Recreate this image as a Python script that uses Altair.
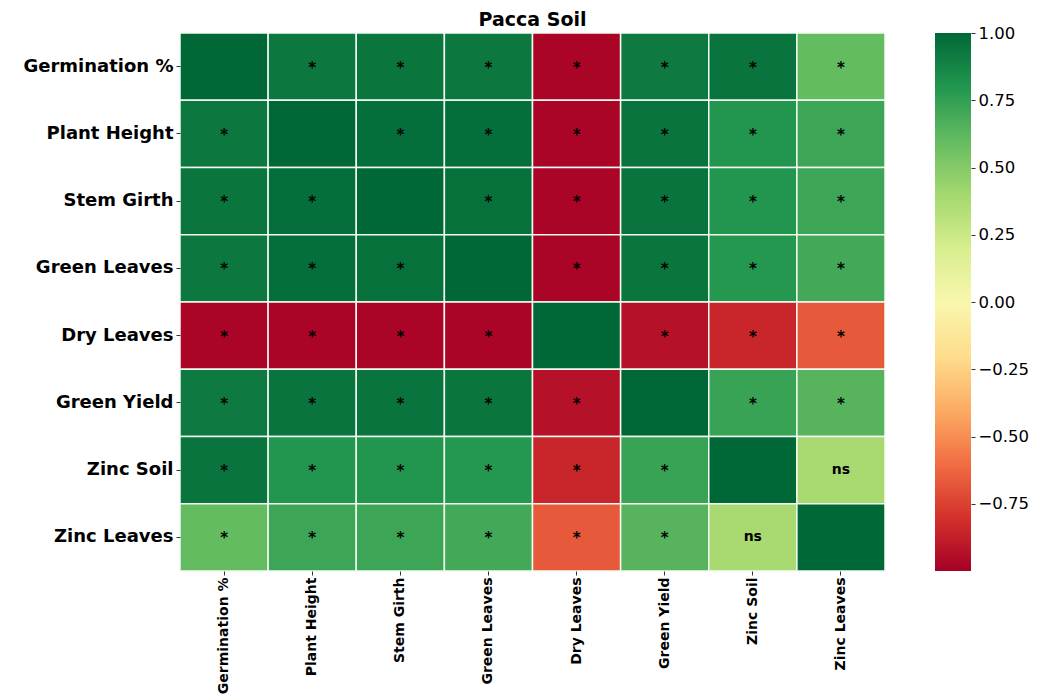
import altair as alt
import numpy as np
import pandas as pd

# Traits measured on Pacca soil
traits = ["Germination %", "Plant Height", "Stem Girth", "Green Leaves",
          "Dry Leaves", "Green Yield", "Zinc Soil", "Zinc Leaves"]

# Pearson correlation matrix (rows/cols in the order of `traits`)
corr = [
    [1.00, 0.93, 0.94, 0.93, -0.98, 0.92, 0.95, 0.60],
    [0.93, 1.00, 0.97, 0.97, -0.98, 0.95, 0.80, 0.72],
    [0.94, 0.97, 1.00, 0.96, -0.98, 0.95, 0.80, 0.72],
    [0.93, 0.97, 0.96, 1.00, -0.98, 0.94, 0.79, 0.70],
    [-0.98, -0.98, -0.98, -0.98, 1.00, -0.93, -0.85, -0.67],
    [0.92, 0.95, 0.95, 0.94, -0.93, 1.00, 0.73, 0.64],
    [0.95, 0.80, 0.80, 0.79, -0.85, 0.73, 1.00, 0.38],
    [0.60, 0.72, 0.72, 0.70, -0.67, 0.64, 0.38, 1.00],
]

# Significance marks: "*" significant, "ns" not significant, "" on the diagonal
sig = [
    ["", "*", "*", "*", "*", "*", "*", "*"],
    ["*", "", "*", "*", "*", "*", "*", "*"],
    ["*", "*", "", "*", "*", "*", "*", "*"],
    ["*", "*", "*", "", "*", "*", "*", "*"],
    ["*", "*", "*", "*", "", "*", "*", "*"],
    ["*", "*", "*", "*", "*", "", "*", "*"],
    ["*", "*", "*", "*", "*", "*", "", "ns"],
    ["*", "*", "*", "*", "*", "*", "ns", ""],
]

# Colorbar ticks
cbar_ticks = [-0.75, -0.5, -0.25, 0.0, 0.25, 0.5, 0.75, 1.0]

records = []
for i, rname in enumerate(traits):
    for j, cname in enumerate(traits):
        records.append({"row": rname, "col": cname, "r": corr[i][j], "sig": sig[i][j]})
df = pd.DataFrame(records)

FONT = "DejaVu Sans"
color_scale = alt.Scale(scheme="redyellowgreen", domain=[-1, 1])

x_enc = alt.X("col:N", sort=traits, title=None,
              axis=alt.Axis(labelAngle=-90, labelFontSize=14, labelFontWeight="bold",
                            labelColor="black", labelPadding=2, tickSize=4,
                            tickColor="#333", domain=False, labelLimit=300))
y_enc = alt.Y("row:N", sort=traits, title=None,
              axis=alt.Axis(labelFontSize=18, labelFontWeight="bold", labelColor="black",
                            labelPadding=3, tickSize=4, tickColor="#333",
                            domain=False, labelLimit=300))

base = alt.Chart(df)

cells = base.mark_rect(stroke="#f4fbf4", strokeWidth=1.5).encode(
    x=x_enc, y=y_enc,
    color=alt.Color("r:Q", scale=color_scale, legend=None),
)

stars = base.transform_filter("datum.sig == '*'").mark_text(
    fontSize=15, fontWeight="bold", color="black", dy=1, font=FONT
).encode(x=x_enc, y=y_enc, text="sig:N")

ns = base.transform_filter("datum.sig == 'ns'").mark_text(
    fontSize=14, fontWeight="bold", color="black", font=FONT
).encode(x=x_enc, y=y_enc, text="sig:N")

heat = alt.layer(cells, stars, ns).properties(
    width=705, height=538,
    title=alt.TitleParams("Pacca Soil", fontSize=19, fontWeight="bold", font=FONT,
                          anchor="middle", offset=2, color="black"),
)

# Colorbar drawn as thin stacked rectangles through the same color scale
n_steps = 300
edges = np.linspace(-1, 1, n_steps + 1)
step = edges[1] - edges[0]
cb_df = pd.DataFrame({
    "lo": edges[:-1],
    "hi": np.minimum(edges[:-1] + step * 1.8, 1.0),
    "mid": edges[:-1] + step / 2,
})

cbar = alt.Chart(cb_df).mark_rect().encode(
    y=alt.Y("lo:Q", title=None,
            scale=alt.Scale(domain=[-1, 1], nice=False, zero=False),
            axis=alt.Axis(orient="right", values=cbar_ticks, format=".2f",
                          labelFontSize=16.5, labelColor="black", tickSize=4,
                          tickColor="#333", domain=False, grid=False, labelPadding=3)),
    y2="hi:Q",
    color=alt.Color("mid:Q", scale=color_scale, legend=None),
).properties(width=36, height=538)

chart = alt.hconcat(heat, cbar, spacing=49).properties(
    padding={"left": 22, "top": 11, "right": 5, "bottom": 5}
).configure(font=FONT).configure_view(stroke=None)

chart.save("out.html", embed_options={"renderer": "svg", "actions": False})
